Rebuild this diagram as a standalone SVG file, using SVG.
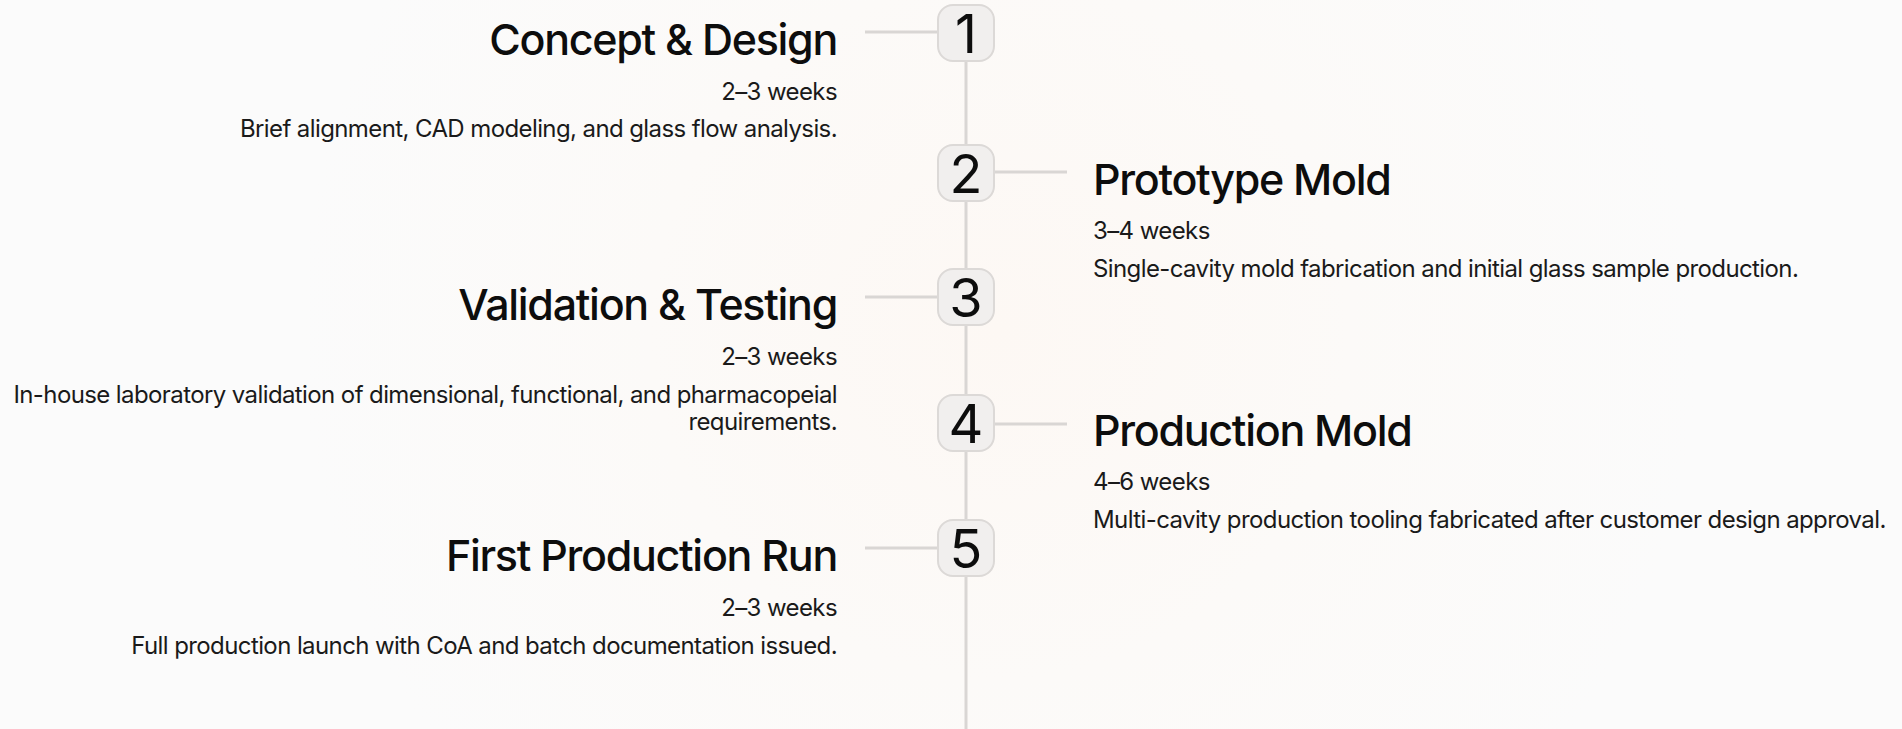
<svg xmlns="http://www.w3.org/2000/svg" width="1902" height="729" viewBox="0 0 1902 729">
<defs>
<radialGradient id="bg" cx="1000" cy="330" r="700" gradientUnits="userSpaceOnUse">
<stop offset="0" stop-color="#fdf8f4"/>
<stop offset="0.5" stop-color="#fcfaf8"/>
<stop offset="1" stop-color="#fbfbfb"/>
</radialGradient>
<style>
.title{font-family:Inter,"Liberation Sans",sans-serif;font-size:43px;font-weight:500;fill:#0d0d0d;letter-spacing:-1.3px}
.dur{font-family:Inter,"Liberation Sans",sans-serif;font-size:24px;font-weight:400;fill:#1a1a1a;letter-spacing:-0.6px}
.desc{font-family:Inter,"Liberation Sans",sans-serif;font-size:24px;font-weight:400;fill:#1a1a1a;letter-spacing:-0.6px}
.num{font-family:Inter,"Liberation Sans",sans-serif;font-size:54px;font-weight:400;fill:#0d0d0d;text-anchor:middle}
.box{fill:#f1efee;stroke:#dcd9d7;stroke-width:2}
.ln{stroke:#d9d6d4;stroke-width:3;fill:none}
.l{text-anchor:end}
</style>
</defs>
<rect width="1902" height="729" fill="url(#bg)"/>
<g id="connectors">
<line class="ln" x1="966" y1="33" x2="966" y2="729"/>
<line class="ln" x1="865" y1="32" x2="938" y2="32"/>
<line class="ln" x1="994" y1="172" x2="1067" y2="172"/>
<line class="ln" x1="865" y1="297" x2="938" y2="297"/>
<line class="ln" x1="994" y1="424" x2="1067" y2="424"/>
<line class="ln" x1="865" y1="548" x2="938" y2="548"/>
</g>
<g id="step1">
<rect class="box" x="938" y="5" width="56" height="56" rx="15"/>
<text class="num" x="966" y="53">1</text>
<text class="title l" x="837" y="55">Concept &amp; Design</text>
<text class="dur l" x="837" y="100">2–3 weeks</text>
<text class="desc l" x="837" y="137">Brief alignment, CAD modeling, and glass flow analysis.</text>
</g>
<g id="step2">
<rect class="box" x="938" y="145" width="56" height="56" rx="15"/>
<text class="num" x="966" y="193">2</text>
<text class="title" x="1093" y="195">Prototype Mold</text>
<text class="dur" x="1093" y="239">3–4 weeks</text>
<text class="desc" x="1093" y="277">Single-cavity mold fabrication and initial glass sample production.</text>
</g>
<g id="step3">
<rect class="box" x="938" y="269" width="56" height="56" rx="15"/>
<text class="num" x="966" y="317">3</text>
<text class="title l" x="837" y="320">Validation &amp; Testing</text>
<text class="dur l" x="837" y="365">2–3 weeks</text>
<text class="desc l" x="837" y="403">In-house laboratory validation of dimensional, functional, and pharmacopeial</text>
<text class="desc l" x="837" y="430">requirements.</text>
</g>
<g id="step4">
<rect class="box" x="938" y="395" width="56" height="56" rx="15"/>
<text class="num" x="966" y="443">4</text>
<text class="title" x="1093" y="446">Production Mold</text>
<text class="dur" x="1093" y="490">4–6 weeks</text>
<text class="desc" x="1093" y="528">Multi-cavity production tooling fabricated after customer design approval.</text>
</g>
<g id="step5">
<rect class="box" x="938" y="520" width="56" height="56" rx="15"/>
<text class="num" x="966" y="568">5</text>
<text class="title l" x="837" y="571">First Production Run</text>
<text class="dur l" x="837" y="616">2–3 weeks</text>
<text class="desc l" x="837" y="654">Full production launch with CoA and batch documentation issued.</text>
</g>
</svg>
